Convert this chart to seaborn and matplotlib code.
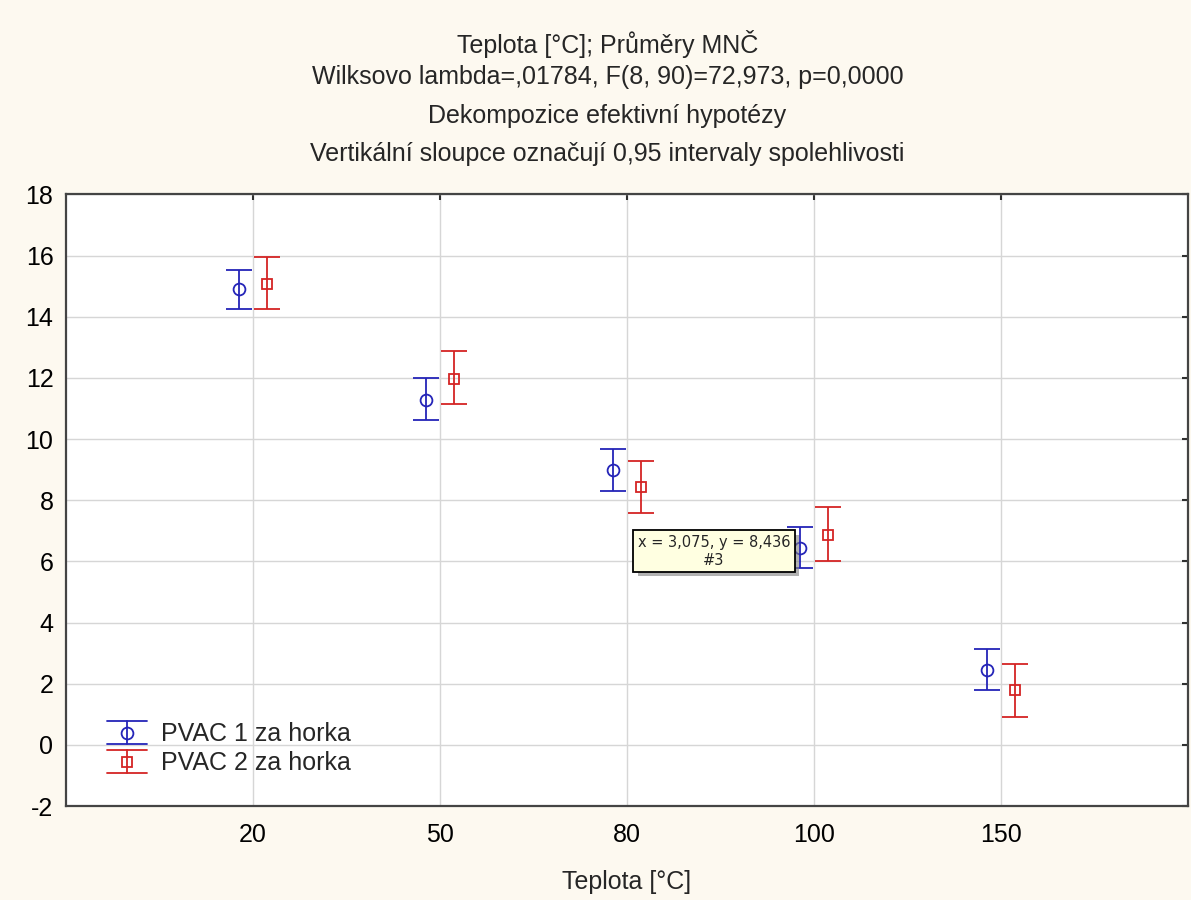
import numpy as np
import matplotlib
matplotlib.use("Agg")
import matplotlib.pyplot as plt
import matplotlib.patheffects as pe
from matplotlib.lines import Line2D
from matplotlib.legend_handler import HandlerBase
import seaborn as sns

# data
teploty = ["20", "50", "80", "100", "150"]
pvac1_mean = [14.90, 11.27, 9.00, 6.45, 2.44]
pvac1_low = [14.24, 10.61, 8.30, 5.79, 1.79]
pvac1_high = [15.52, 12.00, 9.67, 7.13, 3.12]
pvac2_mean = [15.08, 11.98, 8.436, 6.88, 1.78]
pvac2_low = [14.24, 11.14, 7.57, 6.01, 0.90]
pvac2_high = [15.95, 12.89, 9.30, 7.78, 2.65]
serie = ["PVAC 1 za horka", "PVAC 2 za horka"]

sns.set_style("white")
plt.rcParams["font.family"] = ["Liberation Sans", "DejaVu Sans"]
plt.rcParams["axes.unicode_minus"] = False


# legend symbol: wide caps, vertical bar, open marker
class CapHandler(HandlerBase):
    def create_artists(self, legend, orig, xd, yd, w, h, fs, trans):
        col = orig.get_color()
        x0, x1 = -xd, -xd + w
        cx, cy = -xd + w / 2, -yd + h / 2
        half = 8.5
        arts = [
            Line2D([x0, x1], [cy + half, cy + half], color=col, lw=1.3),
            Line2D([x0, x1], [cy - half, cy - half], color=col, lw=1.3),
            Line2D([cx, cx], [cy - half, cy + half], color=col, lw=1.3),
            Line2D([cx], [cy], marker=orig.get_marker(), ms=orig.get_markersize(),
                   mfc="none", mec=col, mew=1.3, ls="none"),
        ]
        for a in arts:
            a.set_transform(trans)
        return arts


bg = "#fdf9f0"
fig = plt.figure(figsize=(11.91, 9), dpi=100, facecolor=bg)
ax = fig.add_axes([0.0554, 0.1044, 0.9421, 0.6795])
ax.set_facecolor("white")

pos = np.arange(1, len(teploty) + 1)
styles = [
    (pvac1_mean, pvac1_low, pvac1_high, "o", 8.5, "#2424b8", -0.075),
    (pvac2_mean, pvac2_low, pvac2_high, "s", 7.8, "#d42424", 0.075),
]
handles = []
for (m, lo, hi, mk, ms, col, off), name in zip(styles, serie):
    m = np.array(m)
    yerr = [m - np.array(lo), np.array(hi) - m]
    ax.errorbar(pos + off, m, yerr=yerr, fmt=mk, color=col, mfc="none",
                mec=col, ms=ms, mew=1.3, elinewidth=1.3,
                capsize=9.5, capthick=1.3, zorder=3)
    handles.append(Line2D([], [], color=col, marker=mk, ms=ms, label=name))

ax.set_xlim(0, 6)
ax.set_ylim(-2, 18)
ax.set_xticks(pos)
ax.set_xticklabels(teploty)
ax.set_yticks(range(-2, 19, 2))
ax.grid(True, color="#d6d6d6", linewidth=1)
ax.set_axisbelow(True)
ax.tick_params(direction="in", length=4, width=1.5, colors="#303030",
               labelcolor="black", labelsize=18, top=True, right=True)
ax.tick_params(axis="y", pad=9)
ax.tick_params(axis="x", pad=12)
for s in ax.spines.values():
    s.set_visible(True)
    s.set_color("#444444")
    s.set_linewidth(1.6)

ax.set_xlabel("Teplota [°C]", fontsize=18, labelpad=17)

titles = [
    ("Teplota [°C]; Průměry MNČ", 44),
    ("Wilksovo lambda=,01784, F(8, 90)=72,973, p=0,0000", 77),
    ("Dekompozice efektivní hypotézy", 116),
    ("Vertikální sloupce označují 0,95 intervaly spolehlivosti", 154),
]
for t, ypx in titles:
    fig.text(0.51, 1 - ypx / 900, t, ha="center", va="center", fontsize=18)

ax.legend(handles=handles, handler_map={Line2D: CapHandler()},
          loc="upper left", bbox_to_anchor=(0.0365, 0.137), frameon=False,
          fontsize=18, handlelength=1.6, handletextpad=0.55,
          labelspacing=0.2, borderpad=0, borderaxespad=0)

# tooltip left by the original program
tip = ax.text(3.465, 6.33, "x = 3,075, y = 8,436\n#3", ha="center", va="center",
              fontsize=10.5, family=["DejaVu Sans"], linespacing=1.25, zorder=5,
              bbox=dict(boxstyle="square,pad=0.3", fc="#ffffe1", ec="black", lw=1.3))
tip.get_bbox_patch().set_path_effects([
    pe.withSimplePatchShadow(offset=(3, -3), shadow_rgbFace="#808080", alpha=0.6)])

fig.savefig("out.png", dpi=100, facecolor=bg)
